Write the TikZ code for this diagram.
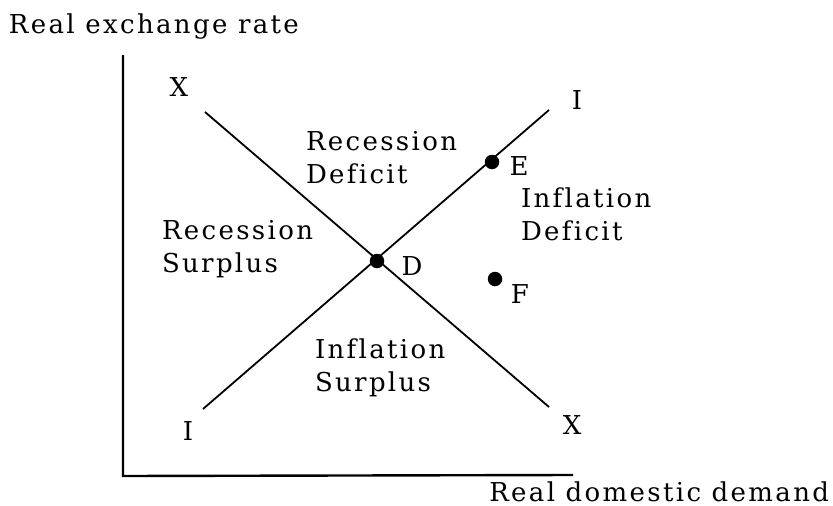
\documentclass[tikz,border=0pt]{standalone}
\usepackage{fontspec}
\setmainfont{DejaVu Serif}[LetterSpace=9,Ligatures={NoCommon}]
\newcommand{\twolines}[2]{\begin{tabular}[t]{@{}l@{}}#1\\#2\end{tabular}}
\begin{document}
\begin{tikzpicture}[x=1pt,y=-1pt,
  lbl/.style={inner sep=0pt, outer sep=0pt, font=\fontsize{26}{33}\selectfont},
  region/.style={lbl, anchor=base west},
  axisline/.style={line width=2.4pt},
  curve/.style={line width=1.8pt},
  dot/.style={circle, fill=black, minimum size=14.5pt, inner sep=0pt}]
\useasboundingbox (0,0) rectangle (833,506);
% axes
\coordinate (top) at (123,55);
\coordinate (orig) at (123,476);
\coordinate (right) at (573,475);
\draw[axisline] (top) -- (orig) -- (right);
\node[lbl, anchor=base west] (ylab) at (9,33) {Real exchange rate};
\node[lbl, anchor=base east] (xlab) at (829,501) {Real domestic demand};
% curves
\coordinate (X1) at (205,112);
\coordinate (X2) at (549,407);
\coordinate (I1) at (203,409);
\coordinate (I2) at (549,110);
\draw[curve] (X1) -- (X2);
\draw[curve] (I1) -- (I2);
\node[lbl] (Xt) at (179,87) {X};
\node[lbl] (Xb) at (572,425) {X};
\node[lbl] (It) at (577,100) {I};
\node[lbl] (Ib) at (188,431) {I};
% points
\node[dot] (D) at (377,261) {};
\node[dot] (E) at (492,162) {};
\node[dot] (F) at (495,279) {};
\node[lbl] (Dl) at (412,266) {D};
\node[lbl] (El) at (519,166) {E};
\node[lbl] (Fl) at (520,294) {F};
% regions
\node[region] (RD) at (306,150) {\twolines{Recession}{Deficit}};
\node[region] (RS) at (162,239) {\twolines{Recession}{Surplus}};
\node[region] (ID) at (521,207) {\twolines{Inflation}{Deficit}};
\node[region] (IS) at (315,358) {\twolines{Inflation}{Surplus}};
\end{tikzpicture}
\end{document}
